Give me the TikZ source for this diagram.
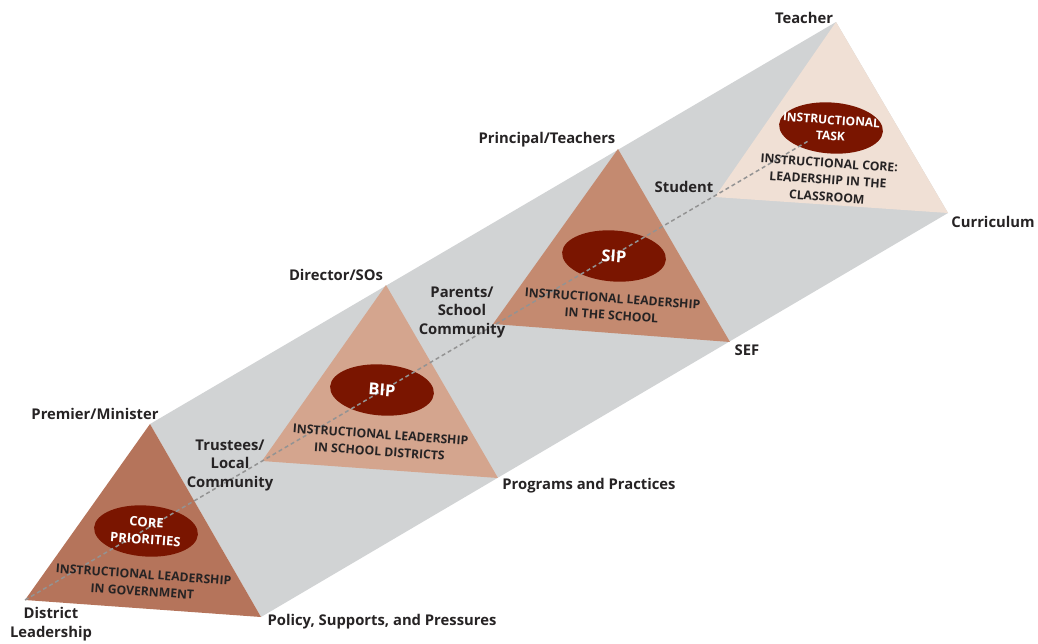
\documentclass[tikz,border=0pt]{standalone}
\usepackage{fontspec}
\setmainfont{Open Sans}
\usetikzlibrary{shapes.geometric}
\definecolor{prismc}{HTML}{D1D3D4}
\definecolor{govc}{HTML}{B5745B}
\definecolor{bipc}{HTML}{D4A58E}
\definecolor{sipc}{HTML}{C48A70}
\definecolor{corec}{HTML}{F0E0D5}
\definecolor{ovalc}{HTML}{7A1500}
\definecolor{labelc}{HTML}{262324}
\definecolor{dashc}{HTML}{939393}
\tikzset{
  lbl/.style={font=\fontsize{14.8}{18.5}\selectfont\bfseries, text=labelc, align=center, inner sep=0pt},
  inner/.style={font=\fontsize{12.2}{17}\selectfont\bfseries, text=labelc, align=center, rotate=-4, inner sep=0pt},
  oval/.style={ellipse, fill=ovalc, minimum width=104pt, minimum height=51pt, inner sep=0pt, rotate=-4, text=white, align=center},
  ovaltxt/.style={font=\fontsize{12}{16}\selectfont\bfseries, text=white, align=center, rotate=-4},
  ovalmid/.style={font=\fontsize{13}{17}\selectfont\bfseries, text=white, align=center, rotate=-4},
  ovalbig/.style={font=\fontsize{16.5}{18}\selectfont\bfseries, text=white, rotate=-4},
  hidden/.style={draw=dashc, line width=1.5pt, dash pattern=on 4pt off 3pt}
}
\begin{document}
\begin{tikzpicture}[x=1pt,y=-1pt]
\useasboundingbox (0,0) rectangle (1038,643);
% vertices
\coordinate (g1) at (150,424); \coordinate (g2) at (25,600); \coordinate (g3) at (261,617);
\coordinate (b1) at (386,285); \coordinate (b2) at (262,461); \coordinate (b3) at (498,478);
\coordinate (s1) at (618,149); \coordinate (s2) at (493,324); \coordinate (s3) at (730,342);
\coordinate (c1) at (836,22);  \coordinate (c2) at (715,197); \coordinate (c3) at (948,213);
\coordinate (dend) at (810,140);
% prism sides
\fill[prismc] (g1) -- (c1) -- (c3) -- (g3) -- cycle;
% faces
\fill[govc] (g1) -- (g2) -- (g3) -- cycle;
\fill[bipc] (b1) -- (b2) -- (b3) -- cycle;
\fill[sipc] (s1) -- (s2) -- (s3) -- cycle;
\fill[corec] (c1) -- (c2) -- (c3) -- cycle;
% ovals
\node[oval] (o1) at (146,531) {};
\node[oval] (o2) at (382,390) {};
\node[oval] (o3) at (614,256) {};
\node[oval] (o4) at (831,128) {};
% hidden edge
\draw[hidden] (g2) -- (dend);
% oval texts
\node[ovalmid] (t1) at (o1) {CORE\\PRIORITIES};
\node[ovalbig] (t2) at (o2) {BIP};
\node[ovalbig] (t3) at (o3) {SIP};
\node[ovaltxt] (t4) at (o4) {INSTRUCTIONAL\\TASK};
% face texts
\node[inner] (f1) at (143,583) {INSTRUCTIONAL LEADERSHIP\\IN GOVERNMENT};
\node[inner] (f2) at (380,443) {INSTRUCTIONAL LEADERSHIP\\IN SCHOOL DISTRICTS};
\node[inner] (f3) at (612,307) {INSTRUCTIONAL LEADERSHIP\\IN THE SCHOOL};
\node[inner] (f4) at (828,180) {INSTRUCTIONAL CORE:\\LEADERSHIP IN THE\\CLASSROOM};
% labels
\node[lbl] (l1) at (804,18) {Teacher};
\node[lbl] (l2) at (993,222) {Curriculum};
\node[lbl] (l3) at (547,140) {Principal/Teachers};
\node[lbl] (l4) at (684,187) {Student};
\node[lbl] (l5) at (747,350) {SEF};
\node[lbl] (l6) at (336,275) {Director/SOs};
\node[lbl] (l7) at (462,312) {Parents/\\School\\Community};
\node[lbl] (l8) at (589,486) {Programs and Practices};
\node[lbl] (l9) at (95,414) {Premier/Minister};
\node[lbl] (l10) at (230,465) {Trustees/\\Local\\Community};
\node[lbl] (l11) at (51,624) {District\\Leadership};
\node[lbl] (l12) at (382,622) {Policy, Supports, and Pressures};
\end{tikzpicture}
\end{document}
